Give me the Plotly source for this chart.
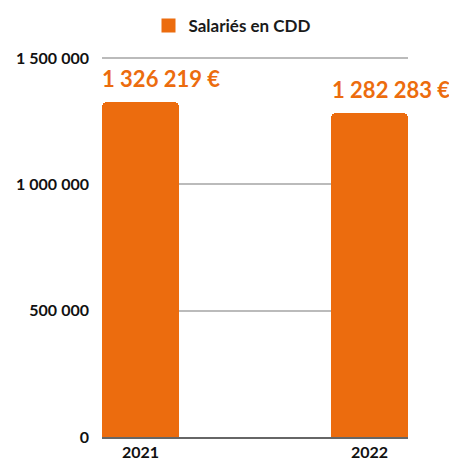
import plotly.graph_objects as go

categories = ["2021", "2022"]
values = [1326219, 1282283]
value_labels = ["1 326 219 €", "1 282 283 €"]
series_name = "Salariés en CDD"
tick_vals = [0, 500000, 1000000, 1500000]

ORANGE = "#EC6C0E"
FONT = "Lato, 'Noto Sans', sans-serif"
BAR_W = 0.336

fig = go.Figure()
fig.add_trace(go.Bar(
    x=categories, y=values, name=series_name,
    marker=dict(color=ORANGE, cornerradius=5, line=dict(width=0)),
    width=BAR_W, showlegend=False,
))
# legend entry with a square swatch
fig.add_trace(go.Scatter(
    x=[None], y=[None], mode="markers", name=series_name,
    marker=dict(symbol="square", size=14, color=ORANGE),
    showlegend=True,
))

for i, (v, lab) in enumerate(zip(values, value_labels)):
    fig.add_annotation(
        x=i, y=v, text="<b>" + lab + "</b>", showarrow=False,
        xanchor="left", yanchor="bottom", xshift=-40, yshift=8,
        font=dict(family=FONT, size=22, color=ORANGE),
    )

fig.update_layout(
    width=449, height=460,
    margin=dict(l=94, r=49, t=48, b=31, autoexpand=False),
    plot_bgcolor="white", paper_bgcolor="white",
    font=dict(family=FONT, color="#111"),
    separators=".\u202f",
    legend=dict(
        orientation="h", xref="container", yref="container",
        x=0.5, xanchor="center", y=1.0, yanchor="top",
        font=dict(family=FONT, size=17, color="#1a1a1a", weight="bold"),
    ),
    xaxis=dict(
        type="category", range=[-BAR_W / 2, 1 + BAR_W / 2],
        showgrid=False, showline=True, linecolor="#666", linewidth=2,
        tickfont=dict(family=FONT, size=16, color="#111", weight="bold"),
        ticks="", automargin=False,
    ),
    yaxis=dict(
        range=[0, 1508000], tickvals=tick_vals, tickformat=",d",
        showgrid=True, gridcolor="#BBBBBB", gridwidth=1.5,
        zeroline=False, showline=False, automargin=False,
        tickfont=dict(family=FONT, size=16, color="#111", weight="bold"),
        ticklabelstandoff=12,
    ),
    bargap=0,
)

fig.write_html("out.html")
